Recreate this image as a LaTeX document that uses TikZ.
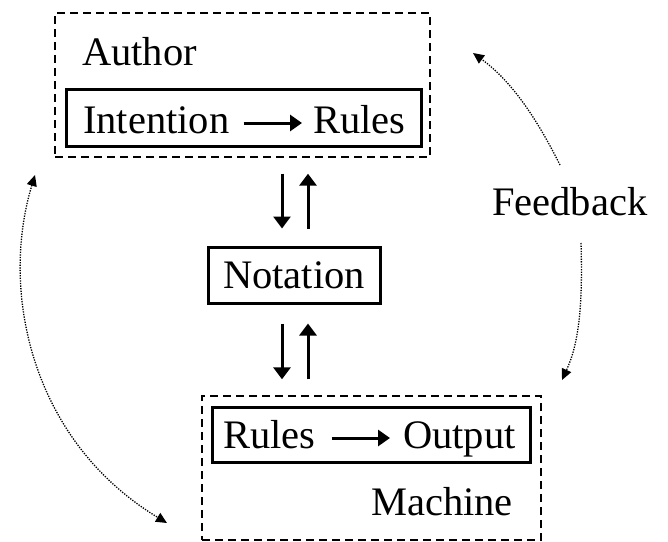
\documentclass[tikz,border=0pt]{standalone}
\usepackage{fontspec}
\setmainfont{Liberation Serif}
\usetikzlibrary{arrows.meta}
\begin{document}
\begin{tikzpicture}[x=1pt,y=-1pt,
  every node/.style={font=\fontsize{40.5}{48}\selectfont, inner sep=0pt},
  dashbox/.style={draw, line width=1.4pt, dash pattern=on 8pt off 5pt},
  solidbox/.style={draw, line width=3pt},
  varr/.style={line width=3pt, -{Triangle[length=12pt,width=17pt]}},
  tarr/.style={line width=3pt, -{Triangle[length=12pt,width=16pt]}},
  fb/.style={line width=1.3pt, dash pattern=on 1.3pt off 1.3pt, {Triangle[length=11pt,width=10pt]}-{Triangle[length=11pt,width=10pt]}},
  fbone/.style={line width=1.3pt, dash pattern=on 1.3pt off 1.3pt, -{Triangle[length=11pt,width=10pt]}}]
\useasboundingbox (0,0) rectangle (668,541);

% Author group
\node[dashbox, minimum width=375pt, minimum height=144pt] (author) at (242.5,85) {};
\node[anchor=base west] (authorlbl) at (82,65) {Author};
\node[solidbox, minimum width=355pt, minimum height=57pt] (intentbox) at (243.5,117.5) {};
\node[anchor=base west] (intent) at (83,133) {Intention};
\node[anchor=base west] (rulesA) at (313,133) {Rules};
\draw[tarr] ([shift={(14,-10)}]intent.base east) -- ([shift={(-11,-10)}]rulesA.base west);

% Notation
\node[solidbox, minimum width=172pt, minimum height=56pt] (notation) at (294,275) {Notation};

% Machine group
\node[dashbox, minimum width=339pt, minimum height=144pt] (machine) at (371.5,468) {};
\node[solidbox, minimum width=318pt, minimum height=55pt] (outbox) at (371,434.5) {};
\node[anchor=base west] (rulesB) at (223,448) {Rules};
\node[anchor=base west] (output) at (403,448) {Output};
\draw[tarr] ([shift={(16,-10)}]rulesB.base east) -- ([shift={(-13,-10)}]output.base west);
\node[anchor=base west] (machinelbl) at (371,515) {Machine};

% vertical arrows
\draw[varr, shorten <=16pt, shorten >=17pt] ([xshift=-12pt]notation.north |- author.south) -- ([xshift=-12pt]notation.north);
\draw[varr, shorten <=17pt, shorten >=16pt] ([xshift=14pt]notation.north) -- ([xshift=14pt]notation.north |- author.south);
\draw[varr, shorten <=19pt, shorten >=16pt] ([xshift=-12pt]notation.south) -- ([xshift=-12pt]notation.south |- machine.north);
\draw[varr, shorten <=16pt, shorten >=19pt] ([xshift=14pt]notation.south |- machine.north) -- ([xshift=14pt]notation.south);

% Feedback
\node[anchor=base west] (feedback) at (492,215) {Feedback};
\coordinate (fbup) at (560,165);
\coordinate (fbdown) at (581,243);
\coordinate (authortip) at (473,53);
\coordinate (machinetip) at (562,380);
\coordinate (lefttop) at (35,175);
\coordinate (leftbot) at (167,523);
\draw[fbone] (fbup) .. controls (535,115) and (510,80) .. (authortip);
\draw[fbone] (fbdown) .. controls (583,310) and (578,345) .. (machinetip);
\draw[fb] (lefttop) .. controls (0,290) and (30,440) .. (leftbot);
\end{tikzpicture}
\end{document}
